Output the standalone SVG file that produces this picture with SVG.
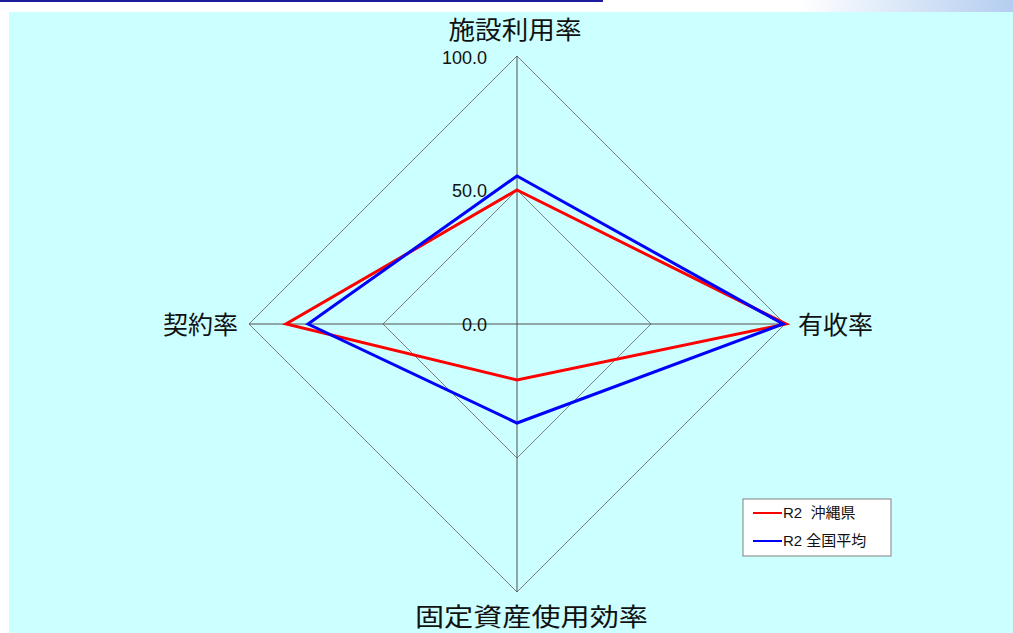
<svg xmlns="http://www.w3.org/2000/svg" width="1013" height="633" viewBox="0 0 1013 633">
<defs>
<linearGradient id="hdr" x1="0" y1="0" x2="1" y2="0">
<stop offset="0" stop-color="#ffffff"/>
<stop offset="1" stop-color="#b4cdf0"/>
</linearGradient>
<style>
.grid{fill:none;stroke:#808080;stroke-width:1}
.axis{stroke:#505050;stroke-width:1}
.lab{font-family:"Noto Sans CJK JP","Liberation Sans",sans-serif;font-size:25px;fill:#111}
.tick{font-family:"Liberation Sans","Noto Sans",sans-serif;font-size:18px;fill:#111}
.leg{font-family:"Liberation Sans","Noto Sans CJK JP",sans-serif;font-size:15px;fill:#111}
.red{fill:none;stroke:#ff0000;stroke-width:3;stroke-linejoin:miter}
.blue{fill:none;stroke:#0000ff;stroke-width:3;stroke-linejoin:miter}
</style>
</defs>
<rect width="1013" height="633" fill="#ffffff"/>
<rect x="800" y="0" width="213" height="12" fill="url(#hdr)"/>
<rect x="0" y="0" width="603" height="2" fill="#1c1c9c"/>
<rect x="9" y="12" width="1004" height="621" fill="#ccffff"/>
<g id="grid">
<polygon class="grid" points="517,56 785,324 517,592 249,324"/>
<polygon class="grid" points="517,190 651,324 517,458 383,324"/>
<line class="axis" x1="517" y1="56" x2="517" y2="592"/>
<line class="axis" x1="249" y1="324" x2="785" y2="324"/>
</g>
<g id="ticks">
<text class="tick" x="487" y="64" text-anchor="end">100.0</text>
<text class="tick" x="487" y="197" text-anchor="end">50.0</text>
<text class="tick" x="487" y="331" text-anchor="end">0.0</text>
</g>
<g id="axis-labels">
<text id="label-top" class="lab" x="515" y="39" text-anchor="middle" textLength="133" lengthAdjust="spacingAndGlyphs">施設利用率</text>
<text id="label-left" class="lab" x="163" y="334" textLength="75" lengthAdjust="spacingAndGlyphs">契約率</text>
<text id="label-right" class="lab" x="798" y="334" textLength="75" lengthAdjust="spacingAndGlyphs">有收率</text>
<text id="label-bottom" class="lab" x="415" y="626" textLength="233" lengthAdjust="spacingAndGlyphs">固定資産使用効率</text>
</g>
<g id="connectors">
<polygon id="series-okinawa" class="red" points="517,190 786,324 517,380 286,324"/>
<polygon id="series-national" class="blue" points="517,176 783,324 517,423 308,324"/>
</g>
<g id="legend">
<rect x="743" y="499" width="148" height="57" fill="#ffffff" stroke="#808080" stroke-width="1"/>
<line x1="753" y1="513" x2="782" y2="513" stroke="#ff0000" stroke-width="2"/>
<line x1="753" y1="541" x2="782" y2="541" stroke="#0000ff" stroke-width="2"/>
<text class="leg" x="783" y="518" xml:space="preserve">R2  沖縄県</text>
<text class="leg" x="783" y="546">R2 全国平均</text>
</g>
</svg>
